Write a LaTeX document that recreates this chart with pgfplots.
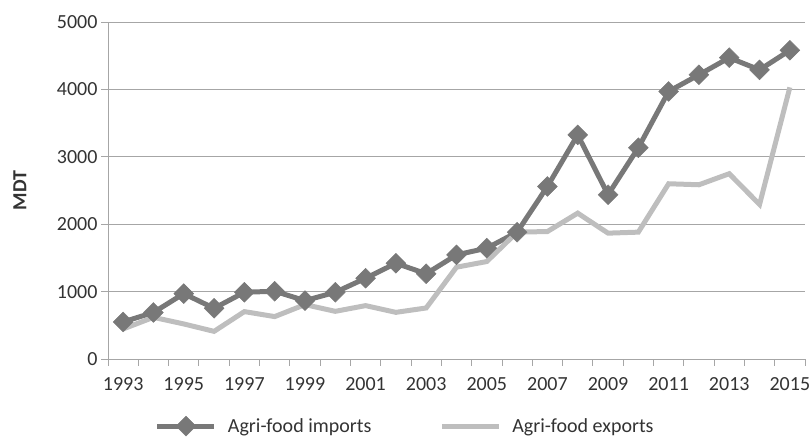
\documentclass[border=0pt]{standalone}
\usepackage{fontspec}
\setmainfont{Carlito}
\usepackage{pgfplots}
\pgfplotsset{compat=1.18}

\definecolor{impcol}{HTML}{787878}
\definecolor{expcol}{HTML}{BEBEBE}
\definecolor{gridcol}{HTML}{A6A6A6}
\definecolor{txtcol}{HTML}{333333}

\begin{document}
\begin{tikzpicture}
\begin{axis}[
  name=main,
  scale only axis,
  width=697bp, height=337bp,
  xmin=1992.5, xmax=2015.5,
  ymin=0, ymax=5000,
  axis x line*=bottom,
  axis y line*=left,
  axis line style={gridcol, line width=0.9bp},
  xtick={1993,1995,...,2015},
  minor xtick={1992.5,1993.5,...,2015.5},
  major x tick style={draw=none},
  minor x tick style={gridcol, line width=0.9bp},
  minor tick length=7bp,
  ytick={0,1000,...,5000},
  major y tick style={gridcol, line width=0.9bp},
  major tick length=7bp,
  tick align=outside,
  ymajorgrids,
  major grid style={gridcol, line width=0.9bp},
  /pgf/number format/assume math mode=true,
  /pgf/number format/1000 sep={},
  ticklabel style={font=\fontsize{20bp}{22bp}\selectfont, text=txtcol},
  xticklabel style={yshift=-8bp},
  ylabel={\textbf{MDT}},
  every axis y label/.style={at={(axis description cs:-0.1263,0.5)},
    rotate=90, anchor=center,
    font=\fontsize{20bp}{22bp}\selectfont, text=txtcol},
  legend style={at={(axis description cs:0.0674,-0.199)}, anchor=west,
    draw=none, fill=none, inner sep=0pt, outer sep=0pt,
    font=\fontsize{20bp}{22bp}\selectfont, text=txtcol,
    legend columns=2,
    nodes={inner sep=0pt, text depth=0pt},
    /tikz/every odd column/.append style={column sep=11bp},
    /tikz/every even column/.append style={column sep=68bp}},
  legend image code/.code={
    \draw[#1, mark=none] (0bp,0bp) -- (57bp,0bp);
    \draw[#1, only marks] plot coordinates {(28.5bp,0bp)};
  },
]
\addplot[impcol, line width=5bp, mark=square*, mark size=7bp,
  mark options={solid, rotate=45, fill=impcol, line width=0.5bp}]
  coordinates {
  (1993,550) (1994,690) (1995,970) (1996,752) (1997,990) (1998,1005)
  (1999,866) (2000,990) (2001,1198) (2002,1420) (2003,1265) (2004,1545)
  (2005,1644) (2006,1882) (2007,2560) (2008,3325) (2009,2437) (2010,3135)
  (2011,3970) (2012,4217) (2013,4470) (2014,4290) (2015,4580)
  };
\addlegendentry{Agri-food imports}
\addplot[expcol, line width=5bp]
  coordinates {
  (1993,446) (1994,618) (1995,520) (1996,410) (1997,703) (1998,629)
  (1999,807) (2000,707) (2001,792) (2002,692) (2003,757) (2004,1362)
  (2005,1446) (2006,1882) (2007,1891) (2008,2164) (2009,1867) (2010,1882)
  (2011,2600) (2012,2585) (2013,2749) (2014,2293) (2015,4030)
  };
\addlegendentry{Agri-food exports}
\end{axis}
% fixed page frame around the plot area
\pgfresetboundingbox
\path[use as bounding box]
  ([xshift=-108bp,yshift=-78bp]main.south west)
  rectangle ([xshift=7bp,yshift=22bp]main.north east);
\end{tikzpicture}
\end{document}
